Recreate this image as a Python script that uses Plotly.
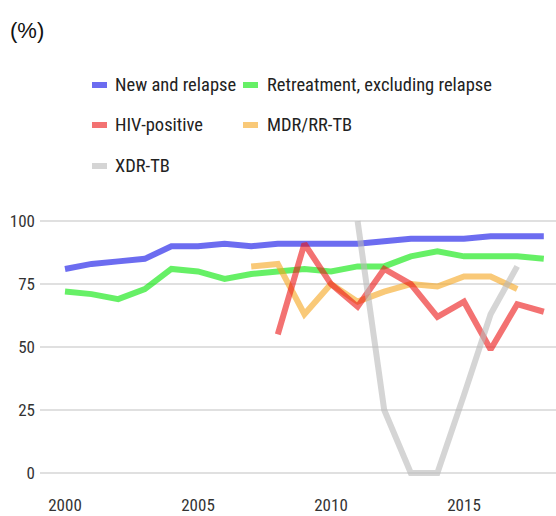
import plotly.graph_objects as go

years = list(range(2000, 2019))

new_relapse = [81, 83, 84, 85, 90, 90, 91, 90, 91, 91, 91, 91, 92, 93, 93, 93, 94, 94, 94]
retreatment = [72, 71, 69, 73, 81, 80, 77, 79, 80, 81, 80, 82, 82, 86, 88, 86, 86, 86, 85]
hiv_years = list(range(2008, 2019))
hiv_positive = [55, 91, 75, 66, 81, 75, 62, 68, 49, 67, 64]
mdr_years = list(range(2007, 2018))
mdr_rr = [82, 83, 63, 75, 68, 72, 75, 74, 78, 78, 73]
xdr_years = list(range(2011, 2018))
xdr = [100, 25, 0, 0, 31, 63, 82]

series_names = ["New and relapse", "Retreatment, excluding relapse",
                "HIV-positive", "MDR/RR-TB", "XDR-TB"]
colors = ["rgba(10,10,230,0.6)", "rgba(0,230,0,0.6)", "rgba(235,20,20,0.6)",
          "rgba(245,165,30,0.6)", "rgba(185,185,185,0.6)"]

y_ticks = [0, 25, 50, 75, 100]
x_ticks = [2000, 2005, 2010, 2015]

FONT = "Liberation Sans Narrow, Roboto Condensed, DejaVu Sans Condensed, sans-serif"

fig = go.Figure()
data = {
    "New and relapse": (years, new_relapse),
    "Retreatment, excluding relapse": (years, retreatment),
    "HIV-positive": (hiv_years, hiv_positive),
    "MDR/RR-TB": (mdr_years, mdr_rr),
    "XDR-TB": (xdr_years, xdr),
}
draw_order = ["New and relapse", "Retreatment, excluding relapse",
              "MDR/RR-TB", "HIV-positive", "XDR-TB"]
for name in draw_order:
    xs, ys = data[name]
    c = colors[series_names.index(name)]
    fig.add_trace(go.Scatter(x=xs, y=ys, mode="lines", name=name,
                             line=dict(color=c, width=6), showlegend=False))

W, H = 556, 516
L, R, T, B = 40, 0, 211, 33
PW, PH = W - L - R, H - T - B
PX_PER_YEAR = 26.6
X0 = 2000 - 25 / PX_PER_YEAR

def px(xp):
    return (xp - L) / PW

def py(yp):
    return (H - B - yp) / PH

# custom legend (page pixel positions)
legend_pos = [(92, 114, 85), (243, 266, 85), (92, 114, 125), (243, 266, 125), (92, 114, 166)]
for name, (sx, tx, cy) in zip(series_names, legend_pos):
    c = colors[series_names.index(name)]
    fig.add_shape(type="rect", xref="paper", yref="paper",
                  x0=px(sx), x1=px(sx + 15), y0=py(cy + 3), y1=py(cy - 3),
                  fillcolor=c, line=dict(width=0))
    fig.add_annotation(text=name, xref="paper", yref="paper", x=px(tx - 1), y=py(cy),
                       xanchor="left", yanchor="middle", showarrow=False,
                       font=dict(family=FONT, size=18.5, color="#222222"))

fig.add_annotation(text="(%)", xref="paper", yref="paper", x=px(8), y=py(31),
                   xanchor="left", yanchor="middle", showarrow=False,
                   font=dict(family="Liberation Sans, Arial, sans-serif", size=22, color="#111111"))

fig.update_layout(
    width=W, height=H,
    margin=dict(l=L, r=R, t=T, b=B, pad=0),
    plot_bgcolor="white", paper_bgcolor="white",
    showlegend=False,
    xaxis=dict(range=[X0, X0 + PW / PX_PER_YEAR], tickvals=x_ticks, showgrid=False,
               zeroline=False, showline=False, ticks="", ticklabelstandoff=10,
               tickfont=dict(family=FONT, size=17, color="#333333")),
    yaxis=dict(range=[-4, 104], tickvals=y_ticks, showgrid=True,
               gridcolor="#e0e0e0", gridwidth=2, zeroline=False, showline=False,
               ticks="", ticklabelstandoff=4,
               tickfont=dict(family=FONT, size=17, color="#333333")),
)

fig.write_html("out.html", config={"displayModeBar": False},
               post_script="document.body.style.margin='0';document.body.style.overflow='hidden';")
